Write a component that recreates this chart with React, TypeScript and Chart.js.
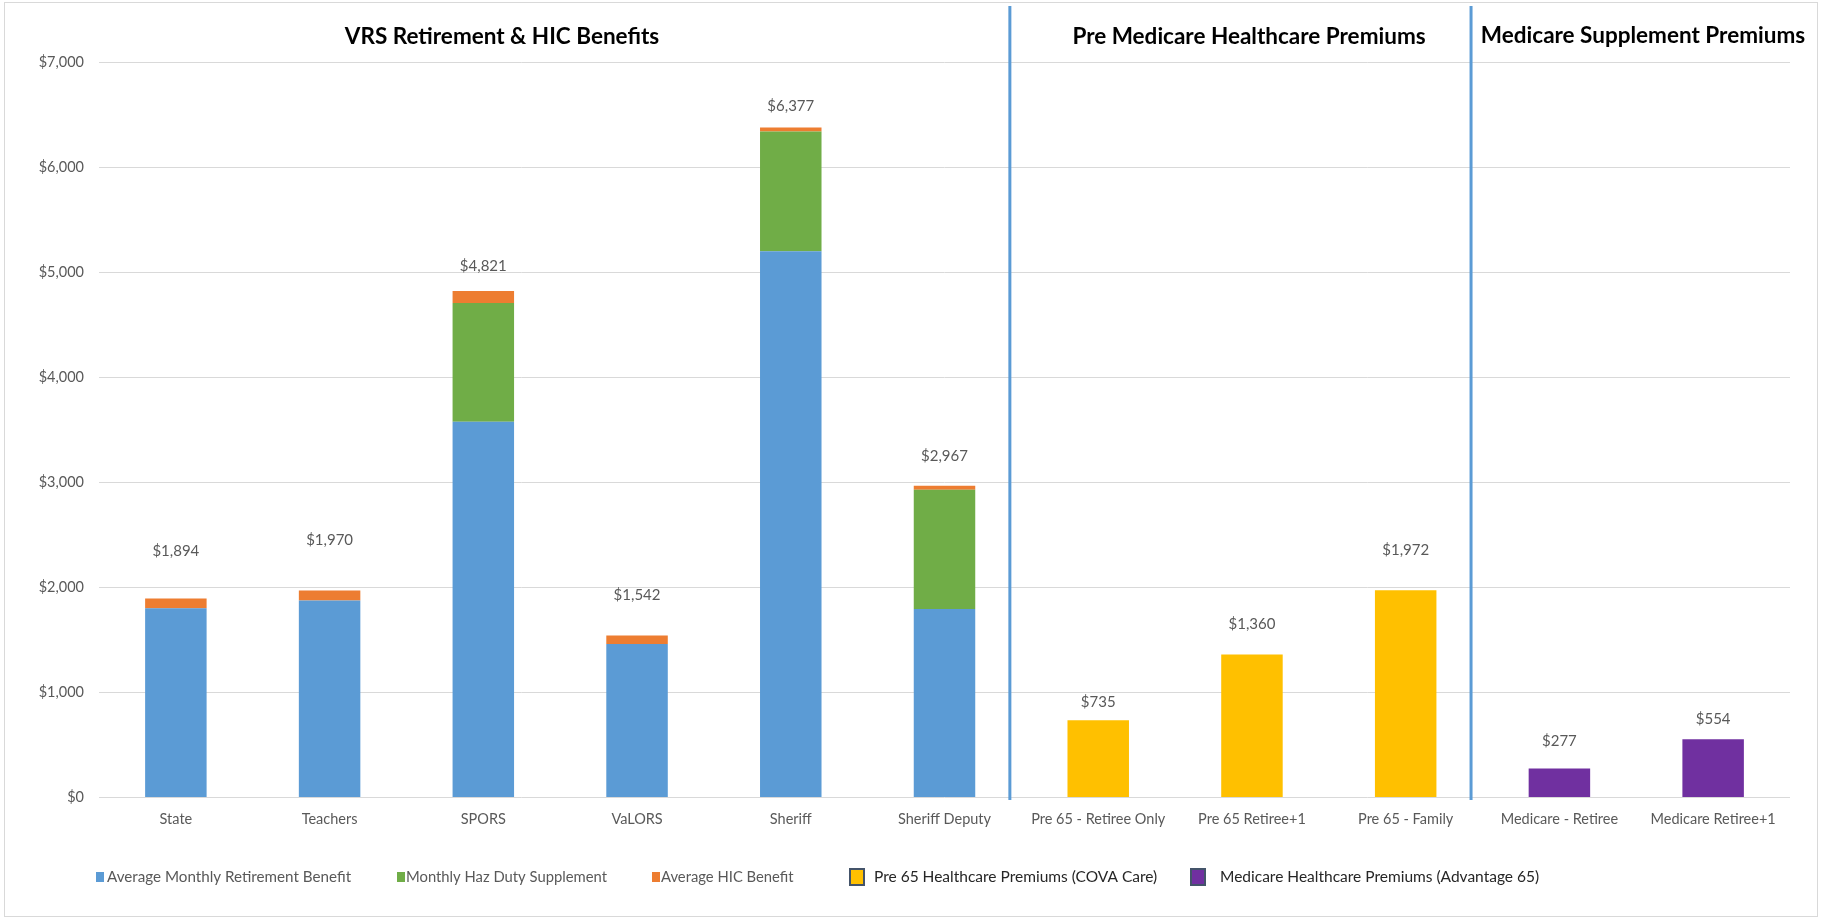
import React, { useEffect, useRef } from "react";
import { Chart, registerables } from "chart.js";

Chart.register(...registerables);

const categories = [
  "State",
  "Teachers",
  "SPORS",
  "VaLORS",
  "Sheriff",
  "Sheriff Deputy",
  "Pre 65 - Retiree Only",
  "Pre 65 Retiree+1",
  "Pre 65 - Family",
  "Medicare - Retiree",
  "Medicare Retiree+1",
];

const retirementBenefit = [1802, 1874, 3576, 1460, 5198, 1795, null, null, null, null, null];
const hazDutySupplement = [null, null, 1131, null, 1140, 1134, null, null, null, null, null];
const hicBenefit = [92, 96, 114, 82, 39, 38, null, null, null, null, null];
const pre65Premiums = [null, null, null, null, null, null, 735, 1360, 1972, null, null];
const medicarePremiums = [null, null, null, null, null, null, null, null, null, 277, 554];

const yTickValues = [0, 1000, 2000, 3000, 4000, 5000, 6000, 7000];

const seriesNames = [
  "Average Monthly Retirement Benefit",
  "Monthly Haz Duty Supplement",
  "Average HIC Benefit",
  "Pre 65 Healthcare Premiums (COVA Care)",
  "Medicare Healthcare Premiums (Advantage 65)",
];

const sectionTitles = [
  "VRS Retirement & HIC Benefits",
  "Pre Medicare Healthcare Premiums",
  "Medicare Supplement Premiums",
];

// styling (not data)
const COLORS = ["#5B9BD5", "#70AD47", "#ED7D31", "#FFC000", "#7030A0"];
const labelOffsets = [47, 50, 25, 40, 21, 30, 18, 30, 40, 27, 20];
const FONT = "Lato, 'Open Sans', sans-serif";
const GRAY = "#595959";

const fmt = (v: number) => "$" + v.toLocaleString("en-US");

const decorPlugin = {
  id: "decor",
  afterDatasetsDraw(chart: any) {
    const { ctx, scales } = chart;
    const x = scales.x;
    const y = scales.y;
    const ds = chart.data.datasets;
    ctx.save();
    ctx.fillStyle = GRAY;
    ctx.font = `15px ${FONT}`;
    ctx.textAlign = "center";
    ctx.textBaseline = "middle";
    for (let i = 0; i < categories.length; i++) {
      let total = 0;
      for (const d of ds) total += (d.data[i] as number) || 0;
      const px = x.getPixelForValue(i);
      const py = y.getPixelForValue(total);
      ctx.fillText(fmt(total), px, py - labelOffsets[i]);
    }
    ctx.restore();
  },
  afterDraw(chart: any) {
    const { ctx, scales } = chart;
    const x = scales.x;
    ctx.save();
    // chart border
    ctx.strokeStyle = "#D9D9D9";
    ctx.lineWidth = 1;
    ctx.strokeRect(4.5, 2.5, 1813, 914);

    // section separators
    const sepAfter = [5, 8];
    ctx.strokeStyle = "#5B9BD5";
    ctx.lineWidth = 3;
    for (const idx of sepAfter) {
      const bx = (x.getPixelForValue(idx) + x.getPixelForValue(idx + 1)) / 2 - 11.5;
      ctx.beginPath();
      ctx.moveTo(bx, 6);
      ctx.lineTo(bx, 800);
      ctx.stroke();
    }

    // section titles
    ctx.fillStyle = "#000";
    ctx.font = `bold 22.5px ${FONT}`;
    ctx.textAlign = "center";
    ctx.textBaseline = "middle";
    const titlePos = [
      [502, 37],
      [1249, 37],
      [1643, 36],
    ];
    sectionTitles.forEach((t, i) => ctx.fillText(t, titlePos[i][0], titlePos[i][1]));

    // legend
    const items = [
      { sx: 96, w: 8, h: 10, border: false, tx: 107, size: 15.2, color: GRAY },
      { sx: 397, w: 8, h: 10, border: false, tx: 406, size: 14.8, color: GRAY },
      { sx: 652, w: 8, h: 10, border: false, tx: 661, size: 14.8, color: GRAY },
      { sx: 850, w: 14, h: 16, border: true, tx: 874, size: 15.5, color: "#262626" },
      { sx: 1191, w: 14, h: 16, border: true, tx: 1220, size: 15.5, color: "#262626" },
    ];
    const cy = 877;
    items.forEach((it, i) => {
      ctx.fillStyle = COLORS[i];
      ctx.fillRect(it.sx, cy - it.h / 2, it.w, it.h);
      if (it.border) {
        ctx.strokeStyle = "#44546A";
        ctx.lineWidth = 2;
        ctx.strokeRect(it.sx, cy - it.h / 2, it.w, it.h);
      }
      ctx.fillStyle = it.color;
      ctx.font = `${it.size}px ${FONT}`;
      ctx.textAlign = "left";
      ctx.textBaseline = "middle";
      ctx.fillText(seriesNames[i], it.tx, cy);
    });
    ctx.restore();
  },
};

export default function App() {
  const ref = useRef<HTMLCanvasElement>(null);
  useEffect(() => {
    const canvas = ref.current;
    if (!canvas) return;
    const seriesData = [retirementBenefit, hazDutySupplement, hicBenefit, pre65Premiums, medicarePremiums];
    const chart = new Chart(canvas, {
      type: "bar",
      data: {
        labels: categories,
        datasets: seriesData.map((d, i) => ({
          label: seriesNames[i],
          data: d as any,
          backgroundColor: COLORS[i],
          borderWidth: 0,
          barPercentage: 0.4,
          categoryPercentage: 1,
        })),
      },
      options: {
        responsive: true,
        maintainAspectRatio: false,
        animation: false,
        layout: { padding: { top: 62, right: 32, bottom: 0, left: 0 } },
        plugins: { legend: { display: false }, tooltip: { enabled: false } },
        scales: {
          x: {
            stacked: true,
            grid: { display: false, drawTicks: false },
            border: { display: false },
            ticks: {
              color: GRAY,
              font: { family: FONT, size: 14.5 },
              padding: 13,
              maxRotation: 0,
              autoSkip: false,
            },
            afterFit: (s: any) => {
              s.height = 122.5;
            },
          },
          y: {
            stacked: true,
            min: yTickValues[0],
            max: yTickValues[yTickValues.length - 1],
            afterBuildTicks: (s: any) => {
              s.ticks = yTickValues.map((v) => ({ value: v }));
            },
            ticks: {
              color: GRAY,
              font: { family: FONT, size: 14.5 },
              padding: 15,
              callback: (v: any) => fmt(Number(v)),
            },
            grid: { color: "#D9D9D9", drawTicks: false, lineWidth: 1 },
            border: { display: false },
            afterFit: (s: any) => {
              s.width = 99;
            },
          },
        },
      },
      plugins: [decorPlugin],
    });
    return () => chart.destroy();
  }, []);
  return (
    <div style={{ position: "fixed", left: 0, top: 0, width: 1822, height: 920, background: "#fff" }}>
      <canvas ref={ref} />
    </div>
  );
}
